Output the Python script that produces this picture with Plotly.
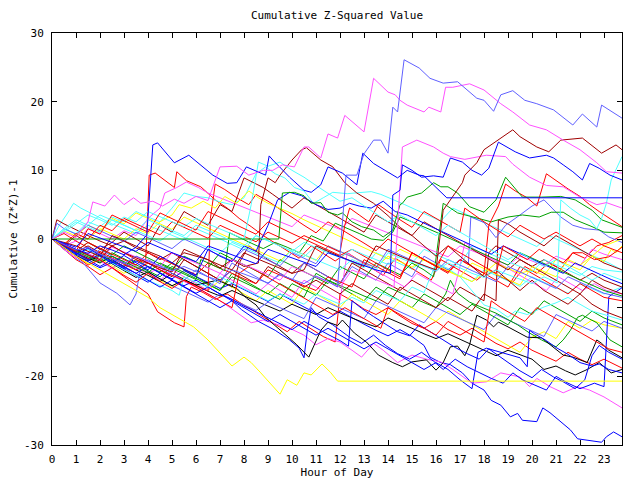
import plotly.graph_objects as go

# ---- data: (hour, cumulative value) pairs per series ----
slate_peak = [(0,0),(0.5,-0.8),(1,-1.6),(1.5,-1.2),(2,-2.2),(2.5,-2.9),(3,-3.6),(3.5,-2.5),(4,-3.2),(4.5,-3.9),(5,-4.6),(5.5,-4),(6,-4.8),(6.5,-5.5),(7,-6.1),(7.5,-4.5),(8,-5.1),(8.5,-5.8),(9,-6.4),(9.5,-5.2),(10,-5.9),(10.5,-6.5),(11,-5.4),(11.5,-6.2),(11.9,-7),(12.05,0.3),(12.15,5.2),(12.25,9.3),(12.7,9.3),(13,12.4),(13.4,14.4),(13.7,14.4),(14,12.5),(14.2,19.2),(14.4,18.5),(14.67,26.1),(15.3,24.9),(15.75,23.4),(16.3,22.7),(16.9,22.9),(17.7,20.5),(18,20.2),(18.4,18.6),(18.7,21),(19.2,21.6),(19.7,20.2),(20.2,19.7),(20.9,18.8),(21.7,16.6),(22.1,18.2),(22.7,16.3),(22.9,19.5),(23.75,17.6)]
magenta_peak = [(0,0),(0.5,1),(1,0.2),(1.5,2.5),(1.7,5.4),(2.2,4.8),(2.6,6.4),(3,5),(3.4,6),(3.7,5.2),(4.2,5.5),(4.6,4.8),(5.1,5.8),(5.5,5.2),(6,6.2),(6.5,5.6),(7,10.5),(7.7,10.6),(8.2,9.3),(8.8,10),(9.2,10),(9.6,10.8),(10.1,10.5),(10.5,13.4),(10.7,13.4),(11.2,11.8),(11.5,15.3),(11.9,14.7),(12.2,18),(13,15.6),(13.4,23.4),(14,21.4),(14.3,21),(14.5,20.2),(14.8,19.5),(15.5,18.5),(15.7,19.2),(16.2,18.5),(16.4,22.1),(16.7,22.1),(17.4,22.6),(18,21.7),(18.7,19.7),(19.2,18.5),(19.9,16.6),(20.6,15.9),(21.3,14.4),(22,13),(22.7,11.1),(23.1,9.8),(23.75,9.6)]
blue_flat = [(0,0),(0.5,-0.8),(1,-1.5),(1.5,-2.1),(2,-1),(2.5,-1.6),(3,-2.3),(3.5,-1.2),(3.95,0.6),(4.2,13.7),(4.4,14),(5.1,11.1),(5.7,12.2),(6.7,9.3),(7.3,8.1),(7.7,8.2),(8.1,10.5),(8.5,9.9),(8.9,9.3),(9.05,12.1),(9.2,11.5),(9.9,9),(10.5,7.1),(10.8,6.8),(11.2,7.9),(11.5,10.5),(12.1,9.6),(12.7,7.9),(12.95,12.5),(13.4,11),(14.4,8.9),(14.8,10),(15.3,9.3),(15.5,9.2),(15.8,8.2),(16.3,6.4),(16.45,6),(23.75,6)]
blue_upper = [(0,0),(1,-1.2),(1.5,0.8),(2.5,-0.5),(3.5,-1.8),(4,-0.5),(5,-2),(6,-3.3),(6.5,-1),(7.5,-2.3),(8.5,-3.6),(9,-1.5),(10,-2.8),(11,-4),(11.5,-2),(12.5,-3.3),(13.5,-4.5),(14.1,-5),(14.2,6.4),(14.5,7.1),(14.6,10.8),(15,10),(15.4,9),(15.9,9.2),(16.3,9),(16.6,11.8),(17.1,11.2),(17.5,10),(17.9,9.3),(18.2,10.3),(18.6,14.1),(19.3,12.7),(19.9,11.8),(20.6,12.2),(20.9,11.8),(21.3,10.8),(21.7,9.8),(22.1,8.6),(22.4,11),(22.8,10.3),(23.25,9.3),(23.75,8.6)]
darkred_late = [(0,0),(0.5,-0.8),(1,-1.5),(1.5,-2.3),(2,-3),(2.5,-1),(3,-2),(3.5,-2.8),(4,-3.5),(4.5,-4.2),(5,-4.8),(5.5,-1.5),(6,-2.3),(6.5,-3),(7,-3.8),(7.5,-4.5),(8,-2),(8.5,-2.8),(9,-3.5),(9.5,-4.3),(10,-5),(10.5,-4.5),(11,-1),(11.5,-1.8),(12,-2.5),(12.5,-3.3),(13,-4),(13.5,-1),(14,-1.8),(14.5,-2.5),(15,-3.2),(15.5,-3.8),(16,-4.5),(16.2,1.3),(16.3,4.2),(17.1,8.2),(17.2,9.3),(17.7,11.1),(18,13),(19.2,15.9),(19.5,14.9),(20.2,13.4),(20.7,12.7),(21.2,14.4),(22.1,14.7),(22.9,12.5),(23.5,13.7),(23.75,13)]
magenta_jump = [(0,0),(0.5,-0.8),(1,-1.5),(1.5,-2.2),(2,-3),(2.5,-1.2),(3,-1.9),(3.5,-2.5),(4,-3.2),(4.5,-4),(5,-2),(5.5,-2.8),(6,-3.5),(6.5,-4.2),(7,-5),(7.5,-3),(8,-3.7),(8.5,-4.5),(9,-5.2),(9.5,-6),(10,-4),(10.5,-4.8),(11,-5.5),(11.5,-6.2),(12,-7),(12.5,-4.5),(13,-5.2),(13.5,-6),(14,-6.6),(14.25,-7),(14.4,2),(14.5,7.1),(14.6,13.4),(15.2,14.4),(15.9,13.4),(16.3,12.5),(16.6,12),(17.2,11.6),(18.1,12.2),(18.9,12),(19.2,10.9),(19.9,9),(20.6,7.8),(21.3,7.6),(22,6.1),(22.7,5),(23.1,5.3),(23.75,4.5)]
cyan_end = [(0,0),(0.5,1.5),(1,2.8),(1.5,2),(2,3.5),(2.5,2.8),(3,2),(3.5,1.2),(4,2.8),(4.5,2),(5,1.2),(5.5,0.5),(6,2),(6.5,1.3),(7,0.5),(7.5,-0.3),(8,-1),(8.5,0.5),(9,-0.3),(9.5,-1),(10,-1.8),(10.5,-0.5),(11,-1.3),(11.5,-2),(12,-2.7),(12.5,-1.5),(13,-2.3),(13.5,-3),(14,-3.7),(14.5,-2.5),(15,-3.3),(15.5,-4),(16,-4.6),(16.5,-3.5),(17,-4.2),(17.5,-5),(18,-5.6),(18.5,-4.5),(19,-5.2),(19.5,-5.9),(20,-6.5),(20.5,-5.5),(21.05,-6.4),(21.2,5.7),(21.6,4.5),(22,3.5),(22.4,2.8),(22.7,1.5),(22.9,3),(23.1,5.2),(23.3,8.6),(23.75,12)]
green_flat = [(0,0),(9.45,0),(9.6,6.7),(10.1,6.8),(10.5,6.3),(10.8,5.2),(11.2,5.3),(11.5,3.9),(11.9,3.5),(12.1,3.8),(12.5,2.5),(12.9,1.8),(13.4,1.3),(13.8,0.3),(14.2,1.3),(14.5,5),(14.6,5.2),(14.8,6.1),(15.4,6.7),(15.9,8.2),(16.2,7.6),(16.5,7.6),(16.9,6.7),(17.4,4.7),(18,3.9),(18.5,5.7),(18.9,9),(19.6,6.1),(20.4,6.1),(21.2,6.2),(21.8,5.7),(22.5,4.2),(22.9,2.8),(23.75,1.7)]
yellow_flat = [(0,0),(0.5,-1.3),(1,-2.5),(1.5,-3.5),(2,-4.5),(2.5,-5.5),(3,-6.5),(3.5,-7.4),(4,-8.5),(4.5,-10),(5,-11),(5.5,-12),(5.9,-12.8),(6.5,-14.7),(7,-16.6),(7.5,-18.5),(8,-17.2),(8.3,-18),(8.7,-19.5),(9.5,-22.6),(9.8,-20.5),(10.2,-21.3),(10.5,-19.5),(10.8,-19.8),(11.25,-18.2),(11.6,-19.4),(11.9,-20.7),(23.75,-20.7)]
blue_low = [(0,0),(0.5,-1.2),(1,-2.2),(1.5,-1.5),(2,-2.6),(2.5,-3.5),(3,-4.3),(3.5,-3.2),(4,-4.1),(4.5,-5),(5,-5.8),(5.5,-4.6),(6,-5.5),(6.5,-6.4),(7,-7.2),(7.5,-6.5),(8,-7.4),(8.5,-8.3),(9,-9.1),(9.5,-8),(10,-9),(10.5,-9.9),(11,-10.8),(11.5,-11.6),(12,-10.5),(12.5,-11.5),(13,-12.4),(13.5,-13.3),(14,-14.1),(14.5,-13.2),(15,-14.2),(15.5,-15.5),(15.75,-17.2),(16.2,-18),(16.6,-18.3),(17.1,-19.5),(17.5,-21),(18,-22),(18.3,-23.5),(18.7,-24.2),(19.1,-25.9),(19.4,-25.4),(19.6,-26.4),(20.2,-26.6),(20.45,-24.6),(20.75,-25.3),(21.2,-26.6),(21.6,-27.8),(21.9,-29.1),(22.4,-29.3),(22.9,-29.6),(23.1,-28.8),(23.4,-28.1),(23.75,-28.8)]
magenta_low = [(0,0),(0.5,-0.9),(1,-1.8),(1.5,-2.6),(2,-3.2),(2.5,-2.5),(3,-3.5),(3.5,-4.3),(4,-5),(4.5,-4.2),(5,-5.3),(5.5,-6.2),(6,-7),(6.5,-8),(7,-9),(7.5,-10.2),(8.3,-12.2),(8.8,-11.8),(9.9,-13),(10.5,-14),(11,-15.4),(11.5,-14.5),(12,-15),(12.5,-16.2),(12.9,-17.2),(13.4,-15.2),(13.8,-16.2),(14.4,-18),(15,-16.9),(15.6,-17.5),(16.2,-17.9),(16.7,-19),(17.5,-21),(18.1,-20.8),(18.7,-19.5),(19.5,-20.1),(19.9,-21.5),(20.2,-20.3),(20.75,-21.5),(21.3,-22.4),(21.6,-22),(21.9,-21.5),(22.4,-22),(23,-23),(23.75,-24.6)]
black_a = [(0,0),(0.5,-1.2),(1,-2.4),(1.5,-3.2),(2,-2.5),(2.5,-3.6),(3,-4.6),(3.5,-5.6),(4,-4.8),(4.5,-5.8),(5,-6.8),(5.5,-6),(6,-6.7),(6.9,-6),(7.7,-7.2),(8.1,-8.6),(8.5,-9.6),(8.9,-11.4),(9.5,-13.3),(10.2,-15.4),(10.7,-17.2),(11.2,-13.3),(11.5,-12.1),(11.9,-12.6),(12.1,-11.8),(12.6,-13.7),(13.1,-15),(13.6,-16.9),(14.2,-18),(14.6,-18.6),(15,-17.9),(15.6,-17.6),(16,-19.1),(16.3,-18),(16.6,-15.7),(16.9,-15.6),(17.2,-17),(17.4,-15.4),(17.7,-11.1),(18.1,-11.8),(18.4,-12.8),(18.6,-12.1),(19,-12.8),(19.5,-13.8),(19.8,-14.3),(20.4,-14.4),(20.9,-15.8),(21.3,-16.9),(21.7,-17.2),(22.3,-18),(22.7,-14.7),(22.9,-15.2),(23.2,-16.2),(23.75,-17.3)]
black_b = [(0,0),(0.5,-1),(1,-2),(1.5,-2.8),(2,-3.5),(2.5,-2.5),(3,-3.5),(3.5,-4.5),(4,-5.3),(4.5,-6.2),(5,-5),(5.5,-5.9),(6,-6.8),(6.5,-7.6),(7,-8.3),(7.5,-7.5),(8,-8.3),(8.5,-9),(9,-9.8),(9.5,-10.5),(10,-9.5),(10.5,-10.3),(11,-11),(11.5,-10),(12,-10.8),(12.5,-11.5),(13,-12.2),(13.5,-12.8),(14,-11.5),(14.5,-12.2),(15,-13),(15.5,-13.8),(16,-14.5),(16.5,-13.8),(17,-14.6),(17.5,-15.5),(18,-16.3),(18.5,-17),(19,-16.2),(19.5,-16.9),(20,-17.5),(20.5,-19),(21,-18.5),(21.4,-19.2),(21.8,-19.8),(22.3,-19),(22.8,-18),(23.3,-19.5),(23.75,-19)]
red_low = [(0,0),(0.5,-1.5),(1,-3),(1.5,-4),(2,-5.2),(2.5,-4.2),(3,-5.5),(3.5,-6.8),(4,-8),(4.4,-10.6),(4.8,-11.5),(5.1,-12.2),(5.5,-12.8),(5.6,-8.4),(5.8,-7),(6.3,-7.8),(6.8,-8.8),(7.3,-8),(7.8,-9.2),(8.3,-10.3),(8.8,-11.4),(9.3,-12.5),(9.8,-13.5),(10.3,-12),(10.8,-13.1),(11.3,-14.2),(11.8,-15),(12,-8),(12.5,-9),(13,-10.2),(13.5,-11),(14,-10),(14.5,-11.2),(15,-12.3),(15.5,-13),(16,-12),(16.5,-13.2),(17,-14),(17.5,-13),(18,-14.1),(18.5,-15.2),(19,-16),(19.5,-15),(20,-16.2),(20.5,-17),(21,-17.8),(21.5,-16.5),(22,-17.5),(22.5,-18.3),(23,-17.5),(23.75,-18.8)]
red_b = [(0,0),(0.5,0.8),(1,-0.3),(1.5,-1.3),(2,-2.2),(2.5,-1),(3,-2),(3.5,-3),(3.9,-3.5),(4.05,9.3),(4.3,9.6),(4.7,8.6),(5.1,7.5),(5.2,9.8),(5.6,8.5),(6.2,7.6),(6.8,5.7),(7.3,4.5),(7.8,3),(8.3,1.8),(8.8,0.5),(9.3,-0.6),(9.8,-1.7),(10.3,-2.8),(10.8,-1),(11.3,-2.1),(11.8,-3.2),(12.3,-2),(12.8,-3.1),(13.3,-4.2),(13.8,-5.3),(14.3,-2.8),(14.8,-3.9),(15.3,-5),(15.8,-6),(16.2,-3),(16.7,-4),(17.2,-5),(17.7,-6),(18.2,-4.5),(18.7,-5.5),(19.2,-6.3),(19.7,-4),(20.2,-5),(20.7,-3.5),(21.2,-4.4),(21.7,-2),(22.2,-2.8),(22.7,-1),(23.2,-0.5),(23.75,0.5)]
red_c = [(0,0),(0.5,-1),(1,-2),(1.5,-2.9),(2,-1.8),(2.5,-2.8),(3,-3.7),(3.5,-4.5),(4,-3.5),(4.5,-4.5),(5,-5.3),(5.5,-6.1),(6,-6.9),(6.5,-7.6),(6.6,3),(6.8,8),(7.2,7.2),(7.7,6),(8.2,5),(8.5,6.5),(9,5.5),(9.5,4.3),(10,3.2),(10.5,2),(11,0.9),(11.5,2.5),(12,1.5),(12.5,0.5),(13,-0.6),(13.5,-1.7),(14,0),(14.5,-1),(15,-2),(15.5,-3),(16,-4),(16.5,-5),(17,-3),(17.5,-4),(18,-5),(18.5,-6),(19,-7),(19.5,-4),(20,-5),(20.5,-6),(21,-7),(21.5,-8),(22,-6.5),(22.5,-7.5),(23,-8.5),(23.75,-9)]
red_d = [(0,0),(0.5,-0.9),(1,-1.8),(1.5,-0.5),(2,-1.4),(2.5,-2.2),(3,-3),(3.5,-3.8),(4,-2),(4.5,-2.8),(5,-3.6),(5.5,-4.4),(6,-5.2),(6.5,-3.5),(7,-4.2),(7.5,-5),(8,-5.8),(8.5,-6.5),(9,-4.5),(9.5,-5.2),(10,-6),(10.5,-6.8),(11,-7.5),(11.5,-5.5),(12,-6.2),(12.5,-7),(13,-3),(13.5,-4),(14,-4.9),(14.5,-5.8),(15,-2),(15.5,-3),(16,-3.9),(16.5,-4.8),(17,-3),(17.5,-4),(18,-5),(18.2,2),(18.6,4.8),(18.9,8),(19.3,7),(19.8,6),(20.2,4.8),(20.6,9.5),(21,8.5),(21.5,7.3),(22,6.2),(22.4,5),(22.8,4),(23.3,2.8),(23.75,1.8)]
red_e = [(0,0),(0.5,-0.8),(1,0.8),(1.5,0),(2,2),(2.5,1.2),(3,3),(3.5,2.2),(4,1.4),(4.5,0.6),(5,2.5),(5.5,1.7),(6,0.9),(6.5,0.1),(7,2),(7.5,1.2),(8,0.4),(8.5,-0.4),(9,1),(9.5,0.2),(10,-0.6),(10.5,0.5),(11,-0.3),(11.5,-1.1),(12,-1.9),(12.2,2),(12.4,4.5),(12.8,3.5),(13.2,2.5),(13.6,5),(14,4),(14.5,2.8),(15,1.7),(15.5,4),(16,3),(16.5,2),(17,1),(17.2,4.5),(17.6,3.5),(18,2.5),(18.5,1.4),(19,0.3),(19.5,2),(20,1),(20.5,0),(21,1),(21.5,0),(22,-1),(22.5,0),(23,-1),(23.75,-2)]
red_f = [(0,0),(0.5,-1.3),(1,-2.6),(1.5,-3.8),(2,-3),(2.5,-4.2),(3,-5.3),(3.5,-6.3),(4,-5),(4.5,-6.2),(5,-7.2),(5.5,-6),(6,-7),(6.5,-8),(7,-9),(7.5,-10),(7.8,-5),(8.2,-4),(8.7,-5),(9.2,-6),(9.7,-7),(10.2,-8),(10.7,-9),(11.2,-10),(11.7,-11),(12.2,-10),(12.7,-11),(13.2,-12),(13.7,-13),(14,-10),(14.5,-11),(15,-12),(15.5,-13),(16,-14),(16.5,-12),(17,-13),(17.5,-14),(18,-15),(18.3,-9),(18.7,-10),(19.2,-11),(19.7,-12),(20.2,-10),(20.7,-11),(21.2,-12),(21.7,-13),(22.2,-14),(22.7,-15),(23.2,-16),(23.75,-16.5)]
red_g = [(0,0),(0.5,-0.9),(1,-1.8),(1.5,1.5),(2,0.7),(2.5,3.5),(3,2.7),(3.5,1.8),(4,1),(4.5,3.8),(5,3),(5.5,2.1),(6,1.3),(6.5,4),(7,3.2),(7.5,2.3),(8,1.5),(8.5,0.7),(9,2.5),(9.5,1.6),(10,0.8),(10.5,0),(11,-0.8),(11.5,-1.6),(12,-2.4),(12.5,-1.5),(13,-2.5),(13.5,-3.5),(14,-4.5),(14.5,-5.5),(15,-2),(15.5,-3),(16,-4),(16.5,-1),(17,-2),(17.5,-3),(18,-4),(18.5,-5),(18.8,-1),(19.3,-2),(19.8,-3),(20.3,-1.5),(20.8,-2.5),(21.3,-3.5),(21.7,-2),(22.1,-2),(22.6,-3),(23.2,-2.6),(23.75,-1.2)]
darkred_mid = [(0,0),(0.5,-0.5),(1,-1),(1.5,-1.8),(2,-2.5),(2.5,0.5),(3,-0.3),(3.5,-1),(4,-1.8),(4.5,-2.5),(5,-3.5),(5.5,-2),(6,-2.5),(6.5,-3),(7,-4.2),(7.5,-3),(8,-4),(8.6,-3.5),(8.7,5),(9,8.9),(9.3,8.2),(9.5,9.3),(10,11.5),(10.4,13),(10.6,13.3),(11.2,11.5),(11.7,10.5),(12.2,8.2),(12.7,6.7),(13.4,5.2),(14,3.4),(14.5,1.7),(15,0.5),(15.5,-1),(16,-2.5),(16.5,-1),(17,-2.5),(17.5,-4),(18,-5.5),(18.5,-4.5),(19,-6),(19.5,-7.5),(20,-6),(20.5,-7.5),(21,-8.5),(21.5,-9.5),(22,-8),(22.5,-9.5),(23,-10.5),(23.75,-11.5)]
darkred_b = [(0,0),(0.2,2.8),(0.5,2.2),(1,1.3),(1.5,0.5),(2,-0.3),(2.5,-1),(3,-0.3),(3.5,-1.3),(4,-2),(4.5,-3),(5,-2),(5.5,-3),(6,-4),(6.5,-5),(7,-6),(7.5,-7),(7.8,-3.5),(8.2,-1),(8.6,-2),(9,-3),(9.5,-4),(10,-5),(10.5,-3.5),(11,-4.5),(11.5,-5.5),(12,-6.5),(12.5,-3.5),(13,-4.5),(13.5,-5.5),(14,-6.5),(14.5,-7.5),(15,-6),(15.5,-7),(16,-8),(16.5,-9),(17,-7),(17.5,-8),(18,-9),(18.2,-2),(18.5,-1),(19,-2),(19.5,-3),(20,-4),(20.5,-3),(21,-4),(21.5,-5),(22,-6),(22.5,-5),(23,-6),(23.75,-7)]
darkred_c = [(0,0),(0.5,-1),(1,-2),(1.5,-1),(2,-2),(2.5,-3),(3,-4),(3.5,-2.5),(4,-3.5),(4.5,-4.5),(5,-5.5),(5.5,-3),(6,-4),(6.5,-5),(7,-6),(7.5,-4.5),(8,-5.5),(8.5,-6.5),(9,-4),(9.5,-5),(10,-6),(10.5,-7),(11,-6),(11.5,-7),(12,-8),(12.5,-6.5),(13,-7.5),(13.5,-8.5),(14,-9.5),(14.5,-7),(15,-8),(15.5,-9),(16,-10),(16.5,-8.5),(17,-9.5),(17.5,-10.5),(18,-8),(18.5,-9),(18.6,2.8),(19,2.2),(19.5,1),(20,0),(20.5,-1),(21,0.5),(21.5,-0.5),(22,-1.5),(22.5,-2.5),(23,-3.5),(23.75,-4.5)]
darkred_d = [(0,0),(0.5,-1),(1,0.5),(1.5,-0.5),(2,-1.5),(2.5,-0.5),(3,1),(3.5,0),(4,-1),(4.5,2),(5,1),(5.5,4),(6,3),(6.5,2),(7,5),(7.5,4),(8,8.9),(8.4,8.2),(8.8,7.5),(9.2,6.5),(9.6,5.5),(10,4.5),(10.5,6),(11,5),(11.5,4),(12,3),(12.5,2),(13,1),(13.5,3.5),(14,2.5),(14.5,1.5),(15,0.5),(15.5,2.5),(16,1.5),(16.5,0.5),(17,-0.5),(17.5,-1.5),(18,-2.5),(18.5,-3.5),(19,-4.5),(19.5,-3),(20,-4),(20.5,-5),(21,-6),(21.5,-7),(22,-8),(22.5,-6),(23,-7),(23.75,-8)]
green_b = [(0,0),(0.5,-1.2),(1,-2.2),(1.5,-3),(2,-2.2),(2.5,-3.2),(3,-4),(3.5,-3),(4,-4),(4.5,-4.8),(5,-3.5),(5.5,-4.5),(6,-5.5),(6.5,-6.5),(7,-7.5),(7.5,-5),(8,-6),(8.5,-7),(9,-8),(9.5,-6.5),(10,-7.5),(10.5,-8.5),(11,-5),(11.5,-6),(12,-7),(12.5,-8),(13,-9),(13.5,-7),(14,-8),(14.5,-9),(15,-10),(15.5,-8),(16,-9),(16.5,-10),(17,-11),(17.5,-9.5),(18,-10.5),(18.5,-11.5),(19,-12.5),(19.5,-10),(20,-11),(20.5,-9),(21,-10),(21.5,-11),(22,-12),(22.5,-10.5),(23,-11.5),(23.75,-12.5)]
green_c = [(0,0),(0.5,-0.8),(1,-1.5),(1.5,-2.3),(2,-3.2),(2.5,-2),(3,-2.9),(3.5,-3.8),(4,-4.6),(4.5,-5.5),(5,-4),(5.5,-4.9),(6,-5.8),(6.5,-6.6),(7,-7.5),(7.5,-5.5),(8,-6.3),(8.5,-7.2),(9,-8),(9.5,-8.8),(10,-6.5),(10.5,-7.4),(11,-8.2),(11.5,-6),(12,-6.8),(12.5,-7.5),(13,-8.3),(13.5,-9),(14,-7),(14.5,-7.8),(15,-8.5),(15.5,-9.3),(16,-10),(16.4,-8),(16.6,-6),(16.9,-7.9),(17.4,-9.2),(17.8,-9.8),(18.5,-10.8),(19.4,-12.5),(19.9,-13.7),(20.4,-14.7),(21,-15.7),(21.3,-14.7),(21.6,-13.3),(21.9,-11.4),(22.1,-11.1),(22.7,-12.2),(23.25,-14.7),(23.75,-15.7)]
green_d = [(0,0),(0.5,-0.9),(1,-1.8),(1.5,-0.5),(2,-1.4),(2.5,-2.3),(3,-1),(3.5,-1.9),(4,-2.8),(4.5,-3.7),(5,-4.5),(5.5,-2.5),(6,-3.4),(6.5,-4.2),(7,-2),(7.5,-2.9),(8,-3.8),(8.5,-4.7),(9,-5.5),(9.5,-3),(10,-3.9),(10.5,-4.8),(11,-5.7),(11.5,-6.5),(12,-4),(12.5,-4.9),(13,-5.8),(13.5,-3.5),(14,-4.4),(14.5,-5.2),(15,-3.5),(15.5,-4.5),(15.9,-5.5),(16.3,5.2),(16.9,3.8),(17.6,3.2),(18.3,2.5),(19,3.2),(19.6,3.5),(20.3,3.2),(20.8,3.9),(21.3,3.9),(21.8,2.8),(22.5,1.8),(23,1),(23.75,0.9)]
green_e = [(0,0),(0.5,-1),(1,-1.8),(1.5,-2.6),(2,-3.4),(2.5,-2.5),(3,-3.3),(3.5,-4.1),(4,-4.9),(4.5,-3.5),(5,-4.3),(5.5,-5.1),(6,-5.9),(6.2,-3),(6.7,-3.8),(7.2,-4.6),(7.4,0.9),(7.8,0.2),(8.3,-0.6),(8.8,-1.4),(9.3,-0.5),(9.8,-1.2),(10.3,-2),(10.8,0.5),(11.3,-0.3),(11.8,2.3),(12.3,1.6),(12.8,0.8),(13.3,0),(13.8,-0.2),(14.2,1),(14.5,3.2),(15,2.5),(15.5,1.8),(16,1),(16.5,0.2),(17,-0.6),(17.5,-1.4),(18,-2.2),(18.5,-3),(19,-3.8),(19.5,-2),(20,-2.8),(20.5,-3.6),(21,-4.4),(21.5,-5.2),(22,-6),(22.5,-6.8),(23,-7.5),(23.75,-8.3)]
cyan_a = [(0,0),(0.3,2),(0.6,3.5),(0.9,5.2),(1.2,4.5),(1.6,3.8),(2,3),(2.5,2.2),(3,1.5),(3.5,0.8),(4,2),(4.5,1.3),(5,0.6),(5.5,-0.2),(6,1.5),(6.5,0.8),(7,0),(7.5,-0.8),(8,-1.6),(8.5,0.5),(9,-0.2),(9.5,-1),(10,-1.8),(10.5,-2.6),(11,-1),(11.5,-1.8),(12,-2.6),(12.5,-3.4),(13,-4.2),(13.5,-2),(14,-2.8),(14.5,-3.6),(15,-4.4),(15.5,-3),(16,-3.8),(16.5,-4.6),(17,-5.4),(17.5,-6.2),(18,-4.5),(18.5,-5.3),(19,-6.1),(19.5,-6.9),(20,-5.5),(20.5,-6.3),(21,-7.1),(21.5,-7.9),(22,-6.5),(22.5,-7.3),(23,-8),(23.75,-7)]
cyan_b = [(0,0),(0.5,1.5),(1,0.8),(1.5,2.5),(2,1.8),(2.5,3.2),(3,2.5),(3.5,4),(4,3.2),(4.5,2.5),(5,4.5),(5.5,6.7),(6,6.2),(6.5,6),(7,5.4),(7.5,5),(8,6),(8.5,9.5),(8.9,10.5),(9.3,9.5),(9.7,8.9),(10.1,7.5),(10.5,7),(10.9,5.2),(11.3,6),(11.7,6.8),(12.3,6.6),(12.8,6.7),(13.3,6.9),(13.7,6.5),(14.2,5.8),(14.7,5),(15.2,4.2),(15.7,3.4),(16.2,2.6),(16.7,4.5),(17.2,3.7),(17.7,2.9),(18.2,2.1),(18.7,1.3),(19.2,0.5),(19.7,-0.3),(20.2,-1.1),(20.7,0.5),(21.2,-0.3),(21.7,-1.1),(22.2,-1.9),(22.7,-2.7),(23.2,-3.5),(23.75,-4.5)]
cyan_c = [(0,0),(0.5,-1.2),(1,-2.3),(1.5,-1.5),(2,-2.6),(2.5,-3.5),(3,-4.5),(3.5,-5.3),(4,-6),(4.5,-6.8),(5,-7.5),(5.3,-8.2),(5.5,-5.5),(6,-6.3),(6.5,-7),(7,-5.5),(7.5,-6.4),(8,-7.3),(8.5,-8.2),(9,-9),(9.5,-8),(10,-8.8),(10.5,-9.5),(11,-8),(11.5,-8.8),(12,-9.5),(12.5,-8.5),(13,-9.3),(13.5,-7.5),(14,-8.3),(14.5,-9),(15,-7),(15.5,-7.8),(16,-3.5),(16.5,-4.3),(17,-5.5),(17.5,-7.5),(18,-9.6),(18.5,-10.2),(19,-11.4),(19.3,-10.5),(19.8,-11),(20.5,-9.9),(21,-9.3),(21.5,-8.5),(22,-9.5),(22.5,-10.5),(23,-11),(23.75,-11.8)]
cyan_d = [(0,0),(0.5,1.2),(1,2.5),(1.5,1.7),(2,1),(2.5,2.8),(3,2),(3.5,1.2),(4,0.5),(4.5,-0.3),(5,1),(5.5,0.3),(6,-0.5),(6.5,-1.3),(7,-2),(7.5,-0.5),(8,-1.3),(8.5,-2),(9,-2.8),(9.5,-3.5),(10,-1.5),(10.5,-2.3),(11,-3),(11.5,-3.8),(12,-4.5),(12.5,-3),(13,-3.8),(13.5,-4.5),(14,-2),(14.5,-2.8),(15,-3.5),(15.5,-1.5),(16,-2.3),(16.5,-3),(17,-3.8),(17.5,-1),(18,-1.8),(18.5,-2.5),(19,-3.3),(19.5,-4),(20,-4.8),(20.5,-3),(21,-3.8),(21.5,-4.5),(22,-5.3),(22.5,-4),(23,-4.5),(23.75,-4.8)]
cyan_e = [(0,0),(0.5,1),(1,2.2),(1.5,3.5),(2,2.8),(2.5,2),(3,3.2),(3.5,2.5),(4,4),(4.5,3.2),(5,2.5),(5.5,1.8),(6,3),(6.5,2.2),(7,1.5),(7.5,0.8),(8,0),(8.3,5),(8.6,11.2),(9,10.6),(9.5,11.2),(10,10),(10.5,9),(11,7.8),(11.5,6.6),(12,5.5),(12.5,6),(13,4.8),(13.5,3.6),(14,2.5),(14.5,3.5),(15,2.5),(15.5,1.5),(16,0.5),(16.5,2),(17,1),(17.5,0),(18,-1),(18.5,-2),(19,-3),(19.5,-2),(20,-3),(20.5,-4),(21,-3),(21.5,-4),(22,-5),(22.5,-6),(23,-5),(23.75,-6)]
yellow_b = [(0,0),(0.5,-0.8),(1,0.8),(1.5,0),(2,1.5),(2.5,0.8),(3,0),(3.5,1.5),(4,0.8),(4.5,2.5),(5,3.5),(5.3,5),(5.8,4.5),(6.3,5.5),(6.8,4.5),(7.2,6.2),(7.7,5.2),(8.2,7),(8.6,6),(9,5.2),(9.5,4.5),(10,3.7),(10.5,2.8),(11,2),(11.5,1.2),(12,0.4),(12.5,-0.5),(13,-1.3),(13.5,-2.1),(14,-2.9),(14.5,-1.5),(15,-2.3),(15.5,-3.1),(16,-3.9),(16.5,-4.7),(17,-5.5),(17.5,-3.5),(18,-4.3),(18.5,-5.1),(19,-5.9),(19.5,-6.7),(20,-4),(20.5,-4.8),(21,-5.5),(21.5,-3),(22,-3.8),(22.5,-2.5),(23,-1),(23.75,0)]
yellow_c = [(0,0),(0.5,-1.3),(1,-2.5),(1.5,-3.6),(2,-2.8),(2.5,-3.9),(3,-5),(3.5,-4),(4,-5),(4.5,-6),(5,-7),(5.5,-5.5),(6,-6.5),(6.5,-7.5),(7,-6),(7.5,-7),(8,-8),(8.5,-9),(9,-7.5),(9.5,-8.5),(10,-9.5),(10.5,-7),(11,-8),(11.5,-9),(12,-10),(12.5,-8),(13,-9),(13.5,-10),(14,-11),(14.5,-9),(15,-10),(15.5,-11),(16,-12),(16.5,-10.5),(17,-11.5),(17.5,-12.5),(18,-13.5),(18.5,-14.5),(19,-15.5),(19.5,-16.5),(20,-14.3),(20.5,-13.5),(21,-14.5),(21.5,-12),(22,-13),(22.5,-11.8),(23,-12.5),(23.75,-13)]
yellow_d = [(0,0),(0.5,1.2),(1,0.4),(1.5,2),(2,1.2),(2.5,3),(3,2.2),(3.5,3.8),(4,3),(4.5,2.2),(5,1.4),(5.5,3.2),(6,2.4),(6.5,1.6),(7,0.8),(7.5,0),(8,-0.8),(8.5,-1.6),(9,-2.4),(9.5,-3.2),(10,-1.5),(10.5,-2.3),(11,-3.1),(11.5,-1),(12,-1.8),(12.5,-2.6),(13,-3.4),(13.5,-4.2),(14,-2.5),(14.5,-3.3),(15,-4.1),(15.5,-3),(16,-3.8),(16.5,-4.6),(17,-5.4),(17.5,-6.2),(18,-5),(18.5,-3.5),(19,-4.3),(19.5,-5),(20,-4.5),(20.5,-5.3),(21,-3),(21.5,-3.8),(22,-4.5),(22.5,-2.5),(23,-3.3),(23.3,-1.5),(23.5,-2),(23.75,-1)]
slate_b = [(0,0),(0.5,-1.5),(1,-2.8),(1.3,-3.5),(2,-6.4),(2.7,-7.9),(3.25,-9.6),(3.5,-8),(3.7,-4),(4,-4.8),(4.5,-5.8),(5,-6.8),(5.5,-7.6),(6,-8.4),(6.5,-9.2),(7,-8),(7.5,-8.8),(8,-9.6),(8.5,-10.4),(9,-9.2),(9.5,-10),(10,-10.8),(10.5,-11.6),(11,-8.5),(11.5,-9.3),(12,-10),(12.5,-10.8),(13,-11.6),(13.5,-9),(14,-9.8),(14.5,-10.6),(15,-11.4),(15.5,-12.2),(16,-10),(16.5,-10.8),(17,-11.6),(17.5,-12.4),(18,-13.2),(18.5,-11),(19,-11.8),(19.5,-12.6),(20,-13.4),(20.5,-14.2),(21,-11),(21.5,-11.8),(22,-12.6),(22.5,-13.4),(23,-12),(23.75,-13)]
slate_c = [(0,0),(0.5,-1),(1,-2),(1.5,-3),(2,-1.5),(2.5,-2.5),(3,-3.5),(3.5,-4.5),(4,-3),(4.5,-4),(5,-5),(5.5,-6),(6,-4.5),(6.5,-5.5),(7,-6.5),(7.5,-3.5),(8,-4.5),(8.5,-5.5),(9,-6.5),(9.5,-5),(10,-6),(10.5,-3.5),(11,-4.5),(11.5,-5.5),(12,-6.5),(12.5,-4),(13,-5),(13.5,-6),(14,-3.5),(14.5,-4.5),(15,-5.5),(15.5,-2.5),(16,-3.5),(16.5,-4.5),(17,-3),(17.35,-3.5),(17.45,3.2),(18,2.4),(18.5,0.2),(18.9,2),(19.5,3.5),(20,4.8),(20.5,5.7),(20.9,4.3),(21.2,3.2),(21.7,2),(22.2,1.5),(22.8,1.3),(23.2,0.3),(23.75,-0.5)]
slate_d = [(0,0),(0.2,2.3),(0.5,1.5),(1,0.7),(1.5,2),(2,1.2),(2.5,0.4),(3,-0.4),(3.5,1),(4,0.2),(4.5,-0.6),(5,-1.4),(5.5,0),(6,-0.8),(6.5,-1.6),(7,-2.4),(7.5,-3.2),(8,-1.5),(8.5,-2.3),(9,-3.1),(9.5,-3.9),(10,-2),(10.5,-2.8),(11,-3.6),(11.5,-1),(12,-1.8),(12.5,-2.6),(13,-3.4),(13.5,-4.2),(14,-1.5),(14.5,-2.3),(15,-3.1),(15.5,-3.9),(16,-4.7),(16.5,-3),(17,-3.8),(17.5,-4.6),(18,-5.4),(18.5,-6.2),(19,-4),(19.5,-4.8),(20,-5.6),(20.5,-6.4),(21,-7.2),(21.5,-5.5),(22,-6.3),(22.5,-7.1),(23,-7.9),(23.75,-8.5)]
blue_b = [(0,0),(0.5,-1.1),(1,-2.1),(1.5,-3),(2,-2.3),(2.5,-3.3),(3,-4.2),(3.5,-5),(4,-4),(4.5,-5),(5,-5.9),(5.5,-6.8),(6,-6),(6.5,-7),(7,-8),(7.5,-9),(7.9,-10.3),(8.6,-12),(9.3,-13.3),(9.9,-14.7),(10.3,-15.9),(10.5,-17.3),(10.65,-13),(10.8,-10),(11.1,-11.3),(11.7,-12.5),(12.4,-14.3),(12.9,-15.2),(13.4,-14),(13.9,-15.5),(14.4,-16.7),(14.9,-17.5),(15.4,-16.5),(15.9,-17.8),(16.3,-19),(16.8,-17.5),(17.3,-18.6),(17.8,-19.5),(18.3,-20.3),(18.8,-21),(19.2,-19.5),(19.6,-20.5),(20.1,-21.3),(20.6,-22),(21,-20),(21.5,-21),(22,-21.8),(22.6,-21),(23,-21.5),(23.2,-8.4),(23.75,-7.1)]
blue_c = [(0,0),(0.5,-1.3),(1,-2.4),(1.5,-3.3),(2,-4.2),(2.5,-3.4),(3,-4.4),(3.5,-5.4),(4,-6.3),(4.5,-5),(5,-6),(5.5,-7),(6,-7.9),(6.5,-7),(7,-8),(7.5,-8.8),(8,-9.8),(8.5,-10.6),(9,-11.5),(9.5,-12.4),(10,-13.2),(10.5,-12),(11,-13),(11.5,-13.9),(12,-14.8),(12.35,-15.6),(12.5,-9),(12.9,-10.1),(13.4,-11.3),(13.9,-12.4),(14.4,-13.5),(14.9,-14.1),(15.3,-12.5),(15.8,-13.6),(16.3,-14.7),(16.8,-15.8),(17.3,-16.7),(17.8,-17.5),(18.2,-16),(18.6,-17),(19,-18),(19.5,-19.2),(20,-20.2),(20.4,-19),(20.9,-20.1),(21.3,-20.8),(21.8,-21.8),(22.2,-20.5),(22.5,-17),(22.8,-15.5),(23.2,-16.5),(23.75,-17.5)]
blue_d = [(0,0),(0.5,-1),(1,-2),(1.5,-3),(2,-4),(2.5,-3),(3,-4),(3.5,-5),(4,-6),(4.5,-7),(5,-6),(5.5,-7),(6,-8),(6.5,-9),(7,-10),(7.5,-9),(8,-10),(8.5,-11),(9,-12),(9.5,-11),(10,-12),(10.5,-13),(11,-14),(11.5,-13),(12,-14),(12.5,-15),(13,-16),(13.5,-15),(14,-16),(14.5,-17),(15,-18),(15.5,-19),(16,-18),(16.5,-19),(17,-20.5),(17.5,-21.8),(17.75,-16.5),(18.1,-15.9),(18.8,-16.6),(19.5,-17.3),(19.8,-18.6),(19.9,-13.3),(20.1,-13.8),(20.6,-14.8),(21,-15.8),(21.5,-16.8),(22,-18),(22.5,-18.5),(22.8,-18.2),(23.2,-19),(23.75,-19.5)]
blue_e = [(0,0),(0.5,-1.2),(1,-2.3),(1.5,-1.3),(2,-2.4),(2.5,-3.5),(3,-2.4),(3.5,-3.5),(4,-4.5),(4.5,-2.5),(5,-3.5),(5.5,-4.4),(6,-5.3),(6.5,-1.5),(7,-2.5),(7.5,-3.3),(8,-1),(8.5,-1.8),(9,2),(9.4,5.7),(9.9,6.8),(10.4,6.3),(11,5),(11.5,4.3),(12,4.5),(12.4,5.2),(12.8,4.8),(13.3,4.5),(13.8,5.5),(14.3,4),(14.8,3.5),(15.3,2.6),(15.8,1.8),(16.3,1),(16.8,0.2),(17.3,-0.6),(17.8,-1.4),(18.3,-2.2),(18.8,-1),(19.3,-1.8),(19.8,-2.6),(20.3,-3.4),(20.8,-4.2),(21.3,-5),(21.8,-3.5),(22.3,-4.3),(22.8,-5.1),(23.3,-5.9),(23.75,-6.5)]
magenta_c = [(0,0),(0.5,-1.5),(1,-2.8),(1.5,-2),(2,-3.2),(2.5,-4.3),(3,-3),(3.5,-4),(4,-5),(4.5,-6),(5,-4.5),(5.5,-5.5),(6,-6.5),(6.5,-7.5),(7,-5),(7.5,-6),(8,-7),(8.5,-8),(9,-6.5),(9.5,-7.5),(10,-8.5),(10.5,-6),(11,-7),(11.5,-8),(12,-9),(12.3,-2),(12.7,-3),(13.2,-4),(13.7,-5),(14.2,-6),(14.7,-7),(15.2,-5),(15.7,-6),(16.2,-7),(16.7,-8),(17,-4),(17.2,-0.5),(17.6,-1.5),(18.1,-2.5),(18.6,-3.5),(19.1,-4.5),(19.6,-5.5),(20.1,-6.5),(20.6,-7.5),(21.1,-5.5),(21.6,-6.5),(22.1,-7.5),(22.6,-6.5),(23.1,-7.5),(23.75,-8)]
magenta_d = [(0,0),(0.5,-1),(1,-0.3),(1.5,1.5),(2,0.8),(2.5,0),(3,1.2),(3.5,0.5),(4,3),(4.5,4.5),(4.7,6.7),(5.2,7.5),(5.6,8.3),(6.1,7.5),(6.5,6.7),(7,6),(7.5,5.3),(8,4.6),(8.5,3.9),(9,3.2),(9.5,2.5),(10,1.8),(10.5,3.5),(11,2.8),(11.5,2.1),(12,1.4),(12.5,3),(13,2.3),(13.5,1.6),(14,0.9),(14.5,0.2),(15,-0.5),(15.5,-1.2),(16,-1.9),(16.5,-2.6),(17,-1),(17.5,-1.7),(18,-2.4),(18.5,-3.1),(19,-3.8),(19.5,-2.5),(20,-3.2),(20.5,-3.9),(21,-2.5),(21.5,-3.2),(22,-3.9),(22.5,-1.5),(23,-2.2),(23.75,-3)]

x_ticks = list(range(0, 24))
y_ticks = [-30, -20, -10, 0, 10, 20, 30]
title_text = "Cumulative Z-Squared Value"
x_title = "Hour of Day"
y_title = "Cumulative (Z*Z)-1"

RED, GREEN, BLUE, MAGENTA, CYAN = "#ff0000", "#00a000", "#0000ff", "#ff50ff", "#50ffff"
DARKRED, YELLOW, BLACK, SLATE = "#a00000", "#ffff00", "#000000", "#6060ff"

series = [
    (red_low, RED), (green_b, GREEN), (blue_low, BLUE), (magenta_low, MAGENTA), (cyan_a, CYAN),
    (darkred_b, DARKRED), (yellow_c, YELLOW), (black_b, BLACK), (slate_b, SLATE),
    (red_b, RED), (green_c, GREEN), (blue_b, BLUE), (magenta_c, MAGENTA), (cyan_b, CYAN),
    (darkred_c, DARKRED), (yellow_d, YELLOW), (black_a, BLACK), (slate_c, SLATE),
    (red_c, RED), (green_d, GREEN), (blue_c, BLUE), (magenta_d, MAGENTA), (cyan_c, CYAN),
    (darkred_d, DARKRED), (yellow_b, YELLOW), (slate_d, SLATE),
    (red_d, RED), (green_e, GREEN), (blue_d, BLUE), (cyan_d, CYAN), (darkred_mid, DARKRED),
    (red_e, RED), (blue_e, BLUE), (cyan_e, CYAN), (red_f, RED), (red_g, RED),
    (yellow_flat, YELLOW), (green_flat, GREEN), (cyan_end, CYAN), (magenta_jump, MAGENTA),
    (darkred_late, DARKRED), (blue_upper, BLUE), (blue_flat, BLUE), (magenta_peak, MAGENTA),
    (slate_peak, SLATE),
]

fig = go.Figure()
for pts, col in series:
    fig.add_trace(go.Scatter(
        x=[p[0] for p in pts], y=[p[1] for p in pts], mode="lines",
        line=dict(color=col, width=1), hoverinfo="skip", showlegend=False))

FONT = "DejaVu Sans Mono"
axis_common = dict(
    showgrid=False, zeroline=False, showline=True, mirror="ticks",
    linecolor="black", linewidth=1, ticks="inside", ticklen=5,
    tickcolor="black", tickwidth=1, automargin=False,
    tickfont=dict(family=FONT, size=11, color="black"),
)
fig.update_layout(
    width=640, height=480,
    margin=dict(l=52, r=18, t=33, b=35),
    paper_bgcolor="white", plot_bgcolor="white",
    showlegend=False,
    font=dict(family=FONT, size=11, color="black"),
    title=dict(text=title_text, x=0.5, xref="paper", xanchor="center",
               y=1 - 15 / 480, yref="container", yanchor="middle",
               font=dict(family=FONT, size=11, color="black")),
    xaxis=dict(range=[0, 23.75], tickmode="array", tickvals=x_ticks,
               ticktext=[str(t) for t in x_ticks], ticklabelstandoff=4,
               title=dict(text=x_title, standoff=2, font=dict(family=FONT, size=11)),
               **axis_common),
    yaxis=dict(range=[-30, 30], tickmode="array", tickvals=y_ticks,
               ticktext=[str(t) for t in y_ticks], ticklabelstandoff=5,
               title=dict(text=y_title, standoff=4, font=dict(family=FONT, size=11)),
               **axis_common),
)
fig.write_html("out.html")
